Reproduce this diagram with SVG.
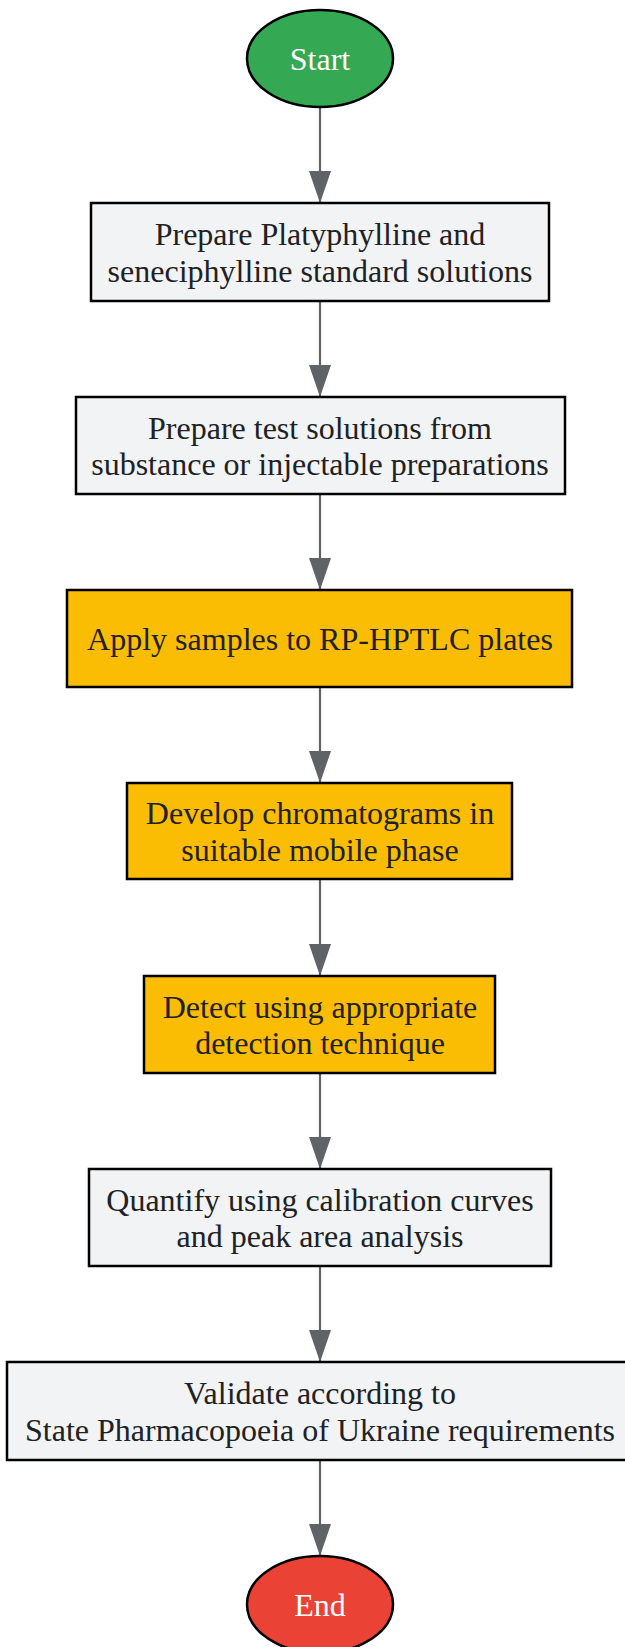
<svg xmlns="http://www.w3.org/2000/svg" width="625" height="1647" viewBox="0 0 625 1647">
<style>
.box{stroke:#000;stroke-width:2.5}
.gray{fill:#f1f3f4}
.yellow{fill:#fbbc04}
.lbl{font-family:"Liberation Serif","Times New Roman",serif;font-size:32px;fill:#202124;text-anchor:middle}
.wl{font-family:"Liberation Serif","Times New Roman",serif;font-size:32px;fill:#ffffff;text-anchor:middle}
.edge{stroke:#5f6368;stroke-width:2.2;fill:none}
</style>
<defs>
<marker id="arr" markerUnits="userSpaceOnUse" markerWidth="32" markerHeight="22" refX="32" refY="11" orient="auto">
<path d="M0,0 L32,11 L0,22 z" fill="#5f6368"/>
</marker>
</defs>
<rect width="625" height="1647" fill="#ffffff"/>
<g id="connectors">
<line class="edge" x1="320" y1="107" x2="320" y2="203" marker-end="url(#arr)"/>
<line class="edge" x1="320" y1="301" x2="320" y2="397" marker-end="url(#arr)"/>
<line class="edge" x1="320" y1="494" x2="320" y2="590" marker-end="url(#arr)"/>
<line class="edge" x1="320" y1="687" x2="320" y2="783" marker-end="url(#arr)"/>
<line class="edge" x1="320" y1="879" x2="320" y2="976" marker-end="url(#arr)"/>
<line class="edge" x1="320" y1="1073" x2="320" y2="1169" marker-end="url(#arr)"/>
<line class="edge" x1="320" y1="1266" x2="320" y2="1362" marker-end="url(#arr)"/>
<line class="edge" x1="320" y1="1460" x2="320" y2="1556" marker-end="url(#arr)"/>
</g>
<g id="start">
<ellipse cx="320" cy="58.5" rx="73" ry="48.5" fill="#34a853" class="box"/>
<text class="wl" x="320" y="70">Start</text>
</g>
<g id="n1">
<rect class="box gray" x="91" y="203" width="458" height="98"/>
<text class="lbl" x="320" y="245">Prepare Platyphylline and</text>
<text class="lbl" x="320" y="282">seneciphylline standard solutions</text>
</g>
<g id="n2">
<rect class="box gray" x="76" y="397" width="489" height="97"/>
<text class="lbl" x="320" y="438.7">Prepare test solutions from</text>
<text class="lbl" x="320" y="475.4">substance or injectable preparations</text>
</g>
<g id="n3">
<rect class="box yellow" x="67" y="590" width="505" height="97"/>
<text class="lbl" x="320" y="650">Apply samples to RP-HPTLC plates</text>
</g>
<g id="n4">
<rect class="box yellow" x="127" y="783" width="385" height="96"/>
<text class="lbl" x="320" y="824.2">Develop chromatograms in</text>
<text class="lbl" x="320" y="860.9">suitable mobile phase</text>
</g>
<g id="n5">
<rect class="box yellow" x="144" y="976" width="351" height="97"/>
<text class="lbl" x="320" y="1017.7">Detect using appropriate</text>
<text class="lbl" x="320" y="1054.4">detection technique</text>
</g>
<g id="n6">
<rect class="box gray" x="89" y="1169" width="462" height="97"/>
<text class="lbl" x="320" y="1210.7">Quantify using calibration curves</text>
<text class="lbl" x="320" y="1247.4">and peak area analysis</text>
</g>
<g id="n7">
<rect class="box gray" x="7" y="1362" width="626" height="98"/>
<text class="lbl" x="320" y="1404.2">Validate according to</text>
<text class="lbl" x="320" y="1440.9">State Pharmacopoeia of Ukraine requirements</text>
</g>
<g id="end">
<ellipse cx="320" cy="1604.5" rx="73" ry="48.5" fill="#ea4335" class="box"/>
<text class="wl" x="320" y="1616">End</text>
</g>
</svg>
